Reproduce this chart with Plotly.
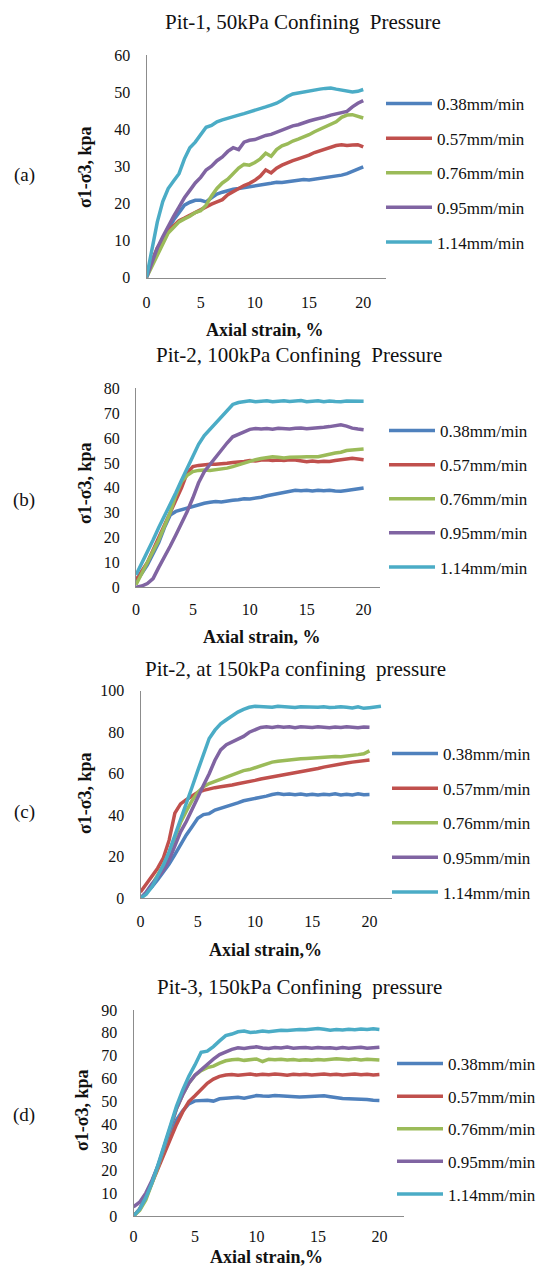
import plotly.graph_objects as go

W, H = 545, 1273
FONT = "Liberation Serif, Times New Roman, serif"

rates = ["0.38mm/min", "0.57mm/min", "0.76mm/min", "0.95mm/min", "1.14mm/min"]
colors = ["#4F81BD", "#C0504D", "#9BBB59", "#8064A2", "#4BACC6"]

strain = [0, 0.5, 1, 1.5, 2, 2.5, 3, 3.5, 4, 4.5, 5, 5.5, 6, 6.5, 7, 7.5, 8, 8.5, 9, 9.5,
          10, 10.5, 11, 11.5, 12, 12.5, 13, 13.5, 14, 14.5, 15, 15.5, 16, 16.5, 17, 17.5,
          18, 18.5, 19, 19.5, 20]
strain_c_long = strain + [20.5, 21]

# Panel (a) Pit-1, 50 kPa
a_038 = [0, 4, 7.5, 10.5, 13, 15.5, 17.5, 19.5, 20.3, 20.8, 20.8, 20.4, 21.5, 22.5, 23, 23.5, 23.8, 24, 24.2, 24.4,
         24.6, 24.8, 25, 25.4, 25.7, 25.6, 25.8, 26, 26.2, 26.4, 26.3, 26.5, 26.7, 27, 27.2, 27.4, 27.6, 28, 28.6, 29.2, 29.8]
a_057 = [0, 4.5, 8, 10, 12.5, 14, 15.3, 16, 16.8, 17.5, 18.2, 19, 19.8, 20.4, 21, 22.3, 23.2, 24, 24.8, 25.4,
         26.2, 27.3, 29, 28.2, 29.5, 30.3, 31, 31.5, 32, 32.4, 33, 33.7, 34.2, 34.8, 35.3, 35.6, 35.8, 35.6, 35.7, 35.8, 35.2]
a_076 = [0, 3, 6, 9, 12, 13.5, 15, 15.8, 16.5, 17.5, 18, 19.5, 22, 24, 25.5, 26.5, 28, 29.5, 30.5, 30.3,
         31, 32, 33.5, 32.7, 34.5, 35.5, 36, 36.8, 37.3, 37.8, 38.5, 39.3, 40, 40.5, 41.2, 42, 43.2, 43.8, 43.9, 43.5, 43]
a_095 = [0, 4, 8, 11, 14, 16.5, 19, 21.5, 23.5, 25.5, 27, 29, 30, 31.5, 32.5, 34, 35, 34.5, 36.5, 37,
         37.2, 37.8, 38.3, 38.6, 39.2, 39.8, 40.3, 40.9, 41.2, 41.8, 42.2, 42.6, 42.9, 43.3, 43.8, 44.2, 44.5, 44.8, 46, 47, 47.7]
a_114 = [0, 8, 15, 20.5, 24, 26, 28, 32, 35, 36.5, 38.5, 40.5, 41, 42, 42.5, 43, 43.5, 43.8, 44.2, 44.6,
         45, 45.5, 46, 46.5, 47, 47.8, 48.8, 49.5, 49.8, 50, 50.3, 50.6, 50.8, 51, 51.1, 50.8, 50.6, 50.3, 50, 50.2, 50.7]

# Panel (b) Pit-2, 100 kPa
b_038 = [2, 5.5, 9, 13.5, 18, 24, 29, 30.5, 31.2, 31.8, 32.5, 33.2, 33.8, 34.2, 34.5, 34.3, 34.8, 35, 35.2, 35.6,
         35.5, 35.8, 36.2, 36.8, 37.3, 37.8, 38.3, 38.8, 39, 38.8, 39, 38.7, 39, 38.8, 39, 38.7, 38.6, 38.9, 39.3, 39.8, 39.9]
b_057 = [3, 6.5, 10, 15, 20, 25, 30, 35, 40, 46, 48.5, 49, 49.3, 49.5, 49.5, 49.6, 49.9, 50.2, 50.3, 50.6,
         51, 50.8, 51.2, 51.3, 51, 51.2, 51, 51.3, 51.2, 51, 50.5, 50.8, 50.5, 50.7, 50.6, 51, 51.2, 51.6, 51.9, 51.6, 51.3]
b_076 = [1, 5.5, 10, 14.5, 19, 24.5, 30, 37, 42.5, 45, 46.5, 47, 47.2, 47, 47.2, 47.5, 47.9, 48.5, 49.2, 50,
         50.8, 51.3, 51.8, 52.2, 52.5, 52.3, 52, 52.3, 52.5, 52.4, 52.5, 52.6, 52.5, 53, 53.6, 54, 54.3, 55, 55.2, 55.5, 55.6]
b_095 = [0, 0.5, 1.5, 3.5, 8, 12, 16.5, 21, 25.5, 30.5, 36, 42, 46.5, 49.5, 52.5, 55, 58, 60.5, 61.5, 62.8,
         63.5, 63.8, 63.6, 63.8, 63.5, 63.9, 63.7, 63.6, 63.9, 64, 63.7, 63.8, 63.9, 64.3, 64.6, 65, 65.3, 64.8, 64, 63.6, 63.3]
b_114 = [5, 9.5, 14.5, 19, 24, 28.5, 33.5, 38, 43, 48, 52.5, 57.5, 61, 63.5, 66, 68.5, 71.5, 73.5, 74.3, 74.8,
         75, 74.6, 74.8, 75, 74.6, 74.8, 75, 74.7, 74.9, 75.1, 74.6, 74.8, 75, 74.6, 74.9, 74.7, 74.6, 74.9, 74.8, 74.6, 74.8]

# Panel (c) Pit-2, 150 kPa
c_038 = [0, 2.5, 5.5, 9, 12.5, 16.5, 21, 26, 30.5, 34.5, 38.5, 40.3, 40.8, 42.5, 43.3, 44, 45, 46, 47, 47.5,
         48, 48.6, 49.2, 50, 50.5, 50, 50.2, 49.9, 50.2, 49.8, 50.1, 49.8, 50.1, 49.9, 50.3, 49.8, 50.1, 49.8, 50.3, 49.9, 50]
c_057 = [3, 7, 10.5, 14.5, 19.5, 28, 41, 45.5, 47.5, 49.5, 51, 52, 52.8, 53.3, 53.7, 54, 54.6, 55.2, 55.6, 56,
         56.8, 57.5, 58, 58.5, 58.8, 59.2, 59.6, 60.3, 61, 61.5, 62, 62.5, 63.2, 63.8, 64.3, 64.8, 65.2, 65.6, 66, 66.4, 66.6]
c_076 = [0, 2.5, 6.5, 11, 16, 22, 29.5, 36.5, 42, 47, 51, 53.8, 55.3, 56.3, 57.5, 58.6, 59.5, 60.5, 61.5, 62,
         63, 64, 65, 65.6, 66, 66.4, 66.6, 67, 67.2, 67.4, 67.6, 67.9, 68.1, 68.2, 68.3, 68.2, 68.4, 68.8, 69.2, 69.6, 71]
c_095 = [0, 3, 7, 10, 13.5, 18.5, 25.5, 32, 37, 42.5, 48.5, 54.5, 60, 66.5, 71.5, 74, 75.4, 76.5, 78, 80,
         81.3, 82.3, 82.6, 82.3, 82.7, 82.4, 82.6, 82.2, 82.6, 82.4, 82.3, 82.6, 82.4, 82.2, 82.5, 82.3, 82.6, 82.4, 82.2, 82.5, 82.4]
c_114 = [0, 2, 5.5, 10.5, 16, 22.5, 30, 37.5, 45.5, 53.5, 61.5, 69.5, 77, 81, 84, 86, 88, 89.7, 91, 92,
         92.5, 92.3, 92.2, 92, 92.5, 92.3, 91.8, 91.9, 92.3, 92.1, 91.8, 92, 92.3, 91.9, 92, 92.3, 92, 91.7, 92.2, 91.5, 91.8,
         92.3, 92.5]

# Panel (d) Pit-3, 150 kPa
d_038 = [0, 3, 8, 14.5, 22, 29, 36, 42, 46, 49, 50.3, 50.4, 50.6, 50.2, 51.2, 51.4, 51.6, 51.9, 51.5, 52.2,
         52.6, 52.4, 52.3, 52.6, 52.4, 52.2, 51.9, 52, 52.1, 52.2, 52.4, 52.5, 52.1, 51.6, 51.3, 51.2, 51.1, 51.3, 50.9, 50.6, 50.5]
d_057 = [0, 3, 8, 14.5, 21, 27.5, 34, 40, 45.5, 50, 52.5, 55, 58, 59.8, 61, 61.6, 61.8, 61.5, 61.8, 62,
         61.6, 61.9, 61.7, 62, 61.8, 61.5, 61.9, 61.7, 61.9, 61.6, 61.8, 62, 61.7, 61.9, 61.6, 61.8, 62, 61.7, 61.9, 61.6, 61.8]
d_076 = [0, 2.5, 7, 14, 21.5, 30, 39, 47, 53, 58, 61.5, 63.5, 64.8, 65.5, 66.8, 67.8, 68.3, 68.5, 68, 68.4,
         68.6, 67.5, 68.5, 68.3, 68.5, 68.2, 68.4, 68, 68.3, 68.1, 68.4, 68.2, 68.5, 68.7, 68.5, 68.3, 68.6, 68.2, 68.5, 68.3, 68.2]
d_095 = [4, 6, 10, 15.5, 22, 30, 39, 47, 53, 58, 61.5, 64, 66, 68.5, 70.5, 71.8, 72.8, 73.5, 73.2, 73.6,
         73.9, 73.4, 73.2, 73.6, 73.4, 73.8, 73.3, 73.5, 73.6, 73.3, 73.6, 73.4, 73.5, 73.2, 73.6, 73.3, 73.5, 73.7, 73.3, 73.6, 73.7]
d_114 = [0, 3, 8, 14.5, 22.5, 31, 40, 48, 55, 61, 66, 71.5, 72, 74, 76.5, 78.8, 79.5, 80.5, 80.8, 80.2,
         80.4, 80.8, 80.5, 81, 81.2, 81, 81.3, 81.5, 81.4, 81.6, 81.9, 81.6, 81.2, 81.5, 81.3, 81.6, 81.4, 81.7, 81.5, 81.8, 81.5]

titles = ["Pit-1, 50kPa Confining\u00a0 Pressure",
          "Pit-2, 100kPa Confining\u00a0 Pressure",
          "Pit-2, at 150kPa confining\u00a0 pressure",
          "Pit-3, 150kPa Confining\u00a0 pressure"]
xtitles = ["Axial strain, %", "Axial strain, %", "Axial strain,%", "Axial strain,%"]
ytitle = "σ1-σ3, kpa"
panel_labels = ["(a)", "(b)", "(c)", "(d)"]
y_max = [60, 80, 100, 90]
y_dtick = [10, 10, 20, 10]
x_ticks = [0, 5, 10, 15, 20]

panels = [
    ([strain] * 5, [a_038, a_057, a_076, a_095, a_114]),
    ([strain] * 5, [b_038, b_057, b_076, b_095, b_114]),
    ([strain] * 4 + [strain_c_long], [c_038, c_057, c_076, c_095, c_114]),
    ([strain] * 5, [d_038, d_057, d_076, d_095, d_114]),
]

# layout geometry in pixels (left, right, top, bottom) of each plot area
geom = [(146.5, 386, 55, 277.5), (136, 380, 388.3, 587.3), (140.5, 391.6, 690.7, 898.3), (133.5, 404, 1010, 1216)]
x_max = [22.1, 21.44, 21.93, 22.0]
x_standoff = [10, 7, 8, 6]
title_pos = [(303, 22), (299, 355), (295, 669), (299, 987)]
xtitle_pos = [(265, 330), (262, 637), (265, 950), (266, 1257)]
ytitle_pos = [(85, 167), (85, 483), (85, 793), (82, 1110)]
label_pos = [(24, 175), (24, 500), (24, 812), (24, 1115)]
legend_top = [86, 413, 736, 1046]
legend_gap = [9.5, 9, 9.5, 7.5]
legend_left = [381, 384, 387, 392]

fig = go.Figure()
legend_names = ["legend", "legend2", "legend3", "legend4"]
for p, (xs_list, ys_list) in enumerate(panels):
    sfx = "" if p == 0 else str(p + 1)
    for i in range(5):
        fig.add_trace(go.Scatter(
            x=xs_list[i], y=ys_list[i], mode="lines", name=rates[i],
            line=dict(color=colors[i], width=3.5),
            xaxis="x" + sfx, yaxis="y" + sfx,
            legend=legend_names[p], legendgroup=f"p{p}_{i}",
        ))

def px(x):
    return x / W

def py(y):
    return 1 - y / H

layout = dict(
    template="none",
    width=W, height=H, margin=dict(l=0, r=0, t=0, b=0, pad=0, autoexpand=False),
    paper_bgcolor="white", plot_bgcolor="white",
    font=dict(family=FONT, size=16, color="#111"),
    annotations=[],
)
for p in range(4):
    sfx = "" if p == 0 else str(p + 1)
    l, r, t, b = geom[p]
    layout["xaxis" + sfx] = dict(
        domain=[px(l), px(r)], range=[0, x_max[p]], anchor="y" + sfx,
        tickvals=x_ticks, showgrid=False, zeroline=False, showline=True, automargin=False,
        linecolor="#8c8c8c", linewidth=1, ticks="", ticklabelstandoff=x_standoff[p],
        tickfont=dict(family=FONT, size=16, color="#111"),
    )
    layout["yaxis" + sfx] = dict(
        domain=[py(b), py(t)], range=[0, y_max[p]], anchor="x" + sfx,
        dtick=y_dtick[p], tick0=0, showgrid=False, zeroline=False, showline=True, automargin=False,
        linecolor="#8c8c8c", linewidth=1, ticks="", ticklabelstandoff=12,
        tickfont=dict(family=FONT, size=16, color="#111"),
    )
    layout[legend_names[p]] = dict(
        x=px(legend_left[p]), y=py(legend_top[p]), xanchor="left", yanchor="top",
        font=dict(family=FONT, size=17, color="#111"),
        bgcolor="rgba(0,0,0,0)", borderwidth=0,
        tracegroupgap=legend_gap[p], itemwidth=46, traceorder="grouped",
    )
    tx, ty = title_pos[p]
    layout["annotations"].append(dict(
        text=titles[p], x=px(tx), y=py(ty), xref="paper", yref="paper",
        xanchor="center", yanchor="middle", showarrow=False,
        font=dict(family=FONT, size=21, color="#111")))
    tx, ty = xtitle_pos[p]
    layout["annotations"].append(dict(
        text="<b>" + xtitles[p] + "</b>", x=px(tx), y=py(ty), xref="paper", yref="paper",
        xanchor="center", yanchor="middle", showarrow=False,
        font=dict(family=FONT, size=18, color="#111")))
    tx, ty = ytitle_pos[p]
    layout["annotations"].append(dict(
        text="<b>" + ytitle + "</b>", x=px(tx), y=py(ty), xref="paper", yref="paper",
        xanchor="center", yanchor="middle", showarrow=False, textangle=-90,
        font=dict(family=FONT, size=18, color="#111")))
    tx, ty = label_pos[p]
    layout["annotations"].append(dict(
        text=panel_labels[p], x=px(tx), y=py(ty), xref="paper", yref="paper",
        xanchor="center", yanchor="middle", showarrow=False,
        font=dict(family=FONT, size=19, color="#111")))

fig.update_layout(**layout)
fig.write_html("out.html")
